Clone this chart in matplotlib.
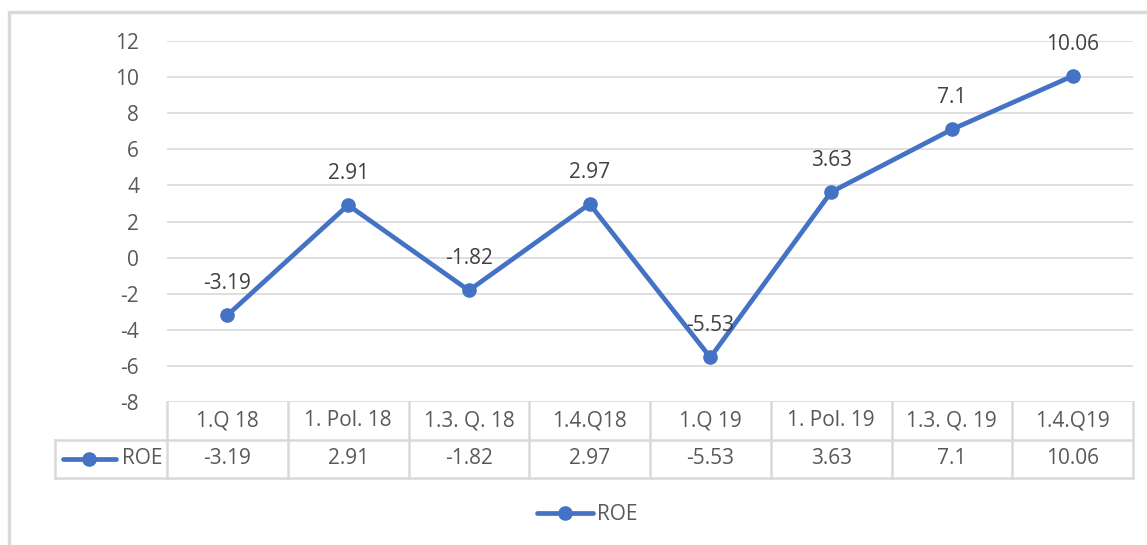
import matplotlib.pyplot as plt
from matplotlib.lines import Line2D
from matplotlib.patches import Rectangle

# data
quarters = ["1.Q 18", "1. Pol. 18", "1.3. Q. 18", "1.4.Q18",
            "1.Q 19", "1. Pol. 19", "1.3. Q. 19", "1.4.Q19"]
roe = [-3.19, 2.91, -1.82, 2.97, -5.53, 3.63, 7.1, 10.06]
roe_text = ["-3.19", "2.91", "-1.82", "2.97", "-5.53", "3.63", "7.1", "10.06"]
yticks = [-8, -6, -4, -2, 0, 2, 4, 6, 8, 10, 12]

BLUE = "#4472C4"
GRID = "#D9D9D9"
TXT = "#595959"
LBL = "#404040"
FS = 15
W, H = 1147, 545

plt.rcParams["font.family"] = ["Open Sans", "DejaVu Sans"]

fig = plt.figure(figsize=(W / 100, H / 100), dpi=100)

# outer chart border
fig.patches.append(Rectangle((9 / W, -0.1), 1.2, (H - 12) / H + 0.1,
                             transform=fig.transFigure, fill=False,
                             edgecolor=GRID, linewidth=2.5))

left, right = 167 / W, 1133 / W
top, bot = 1 - 41 / H, 1 - 402 / H
ax = fig.add_axes([left, bot, right - left, top - bot])
x = list(range(len(quarters)))
ax.plot(x, roe, color=BLUE, linewidth=3.4, marker="o", markersize=9.5,
        zorder=3, clip_on=False)
for xi, v, t in zip(x, roe, roe_text):
    ax.annotate(t, (xi, v), xytext=(0, 23), textcoords="offset points",
                ha="center", va="center", fontsize=FS, color=LBL, zorder=4)

ax.set_xlim(-0.5, len(quarters) - 0.5)
ax.set_ylim(-8, 12)
ax.set_yticks(yticks)
ax.set_yticklabels([str(t) for t in yticks], fontsize=FS, color=TXT)
ax.tick_params(axis="y", length=0, pad=20)
ax.set_xticks([])
ax.grid(axis="y", color=GRID, linewidth=1.2)
ax.set_axisbelow(True)
for s in ax.spines.values():
    s.set_visible(False)

# data table below the plot
tb = 1 - 478 / H
tax = fig.add_axes([left, tb, right - left, bot - tb])
tax.set_xlim(-0.5, len(quarters) - 0.5)
tax.set_ylim(0, 2)
tax.axis("off")
col_w = (1133 - 167) / len(quarters)
leg_x = -0.5 - (167 - 55) / col_w
lk = dict(color=GRID, linewidth=1.8, clip_on=False)
for xv in [i - 0.5 for i in range(len(quarters) + 1)]:
    tax.plot([xv, xv], [0, 2], **lk)
tax.plot([leg_x, leg_x], [0, 1], **lk)
tax.plot([leg_x, len(quarters) - 0.5], [1, 1], **lk)
tax.plot([leg_x, len(quarters) - 0.5], [0, 0], **lk)
for xi, q, t in zip(x, quarters, roe_text):
    tax.text(xi, 1.5, q, ha="center", va="center", fontsize=FS, color=TXT)
    tax.text(xi, 0.5, t, ha="center", va="center", fontsize=FS, color=TXT)
tax.plot([leg_x + 8 / col_w, leg_x + 61 / col_w], [0.5, 0.5], color=BLUE,
         linewidth=3.4, solid_capstyle="round", clip_on=False)
tax.plot([leg_x + 34 / col_w], [0.5], "o", color=BLUE, markersize=9.5,
         clip_on=False)
tax.text(-0.5 - 4 / col_w, 0.5, "ROE", ha="right", va="center", fontsize=FS,
         color=TXT)

# bottom legend
handle = Line2D([], [], color=BLUE, linewidth=3.4, marker="o", markersize=9.5,
                solid_capstyle="round")
fig.legend([handle], ["ROE"], loc="center", bbox_to_anchor=(587 / W, 1 - 515 / H),
           frameon=False, fontsize=FS, labelcolor=TXT, handlelength=2.7,
           handletextpad=0.2)

fig.savefig("out.png", dpi=100)
